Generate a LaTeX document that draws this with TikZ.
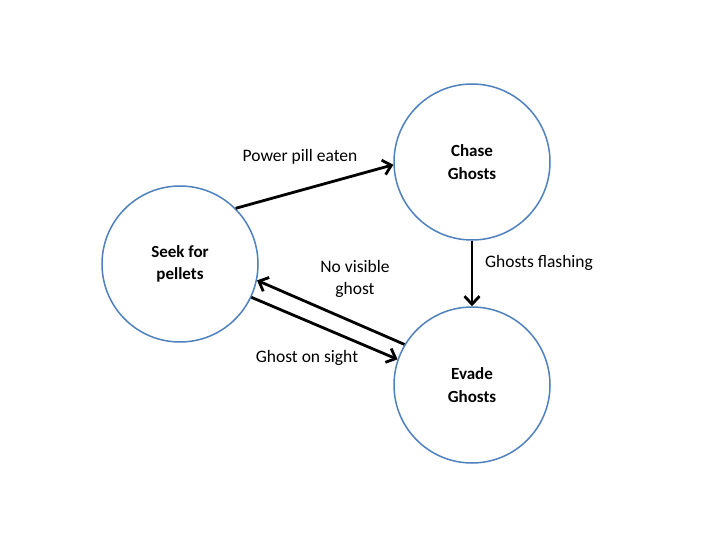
\documentclass[tikz,border=0pt]{standalone}
\usepackage{fontspec}
\setmainfont{Carlito}
\usetikzlibrary{arrows.meta}
\definecolor{stateblue}{RGB}{79,129,189}

\begin{document}
\begin{tikzpicture}[x=1pt,y=-1pt]
	\tikzstyle{state} = [draw=stateblue, line width=1.5pt, fill=white, circle, minimum size=156pt, inner sep=0pt, align=center, font=\fontsize{17}{22.5}\selectfont\bfseries]
	\tikzstyle{lbl} = [align=center, font=\fontsize{17.5}{22.5}\selectfont]
	\tikzstyle{trans} = [line width=2.8pt, -{Straight Barb[length=8pt,width=15pt,line width=2.8pt]}]

	\useasboundingbox (0,0) rectangle (720,540);

	\draw (180,264) node[state] (seek) {Seek for\\pellets};
	\draw (472,162) node[state] (chase) {Chase\\Ghosts};
	\draw (472,385) node[state] (evade) {Evade\\Ghosts};

	\draw (300,157) node[lbl] (lpower) {Power pill eaten};
	\draw (539,263) node[lbl] (lflash) {Ghosts flashing};
	\draw (355,279) node[lbl] (lnovis) {No visible\\ghost};
	\draw (307,358) node[lbl] (lsight) {Ghost on sight};

	\draw[trans] (seek.45) -- (chase.182);
	\draw[trans] (chase.south) -- (evade.north);
	\draw[trans] (evade.149) -- (seek.348);
	\draw[trans] (seek.335) -- (evade.161);
\end{tikzpicture}
\end{document}
